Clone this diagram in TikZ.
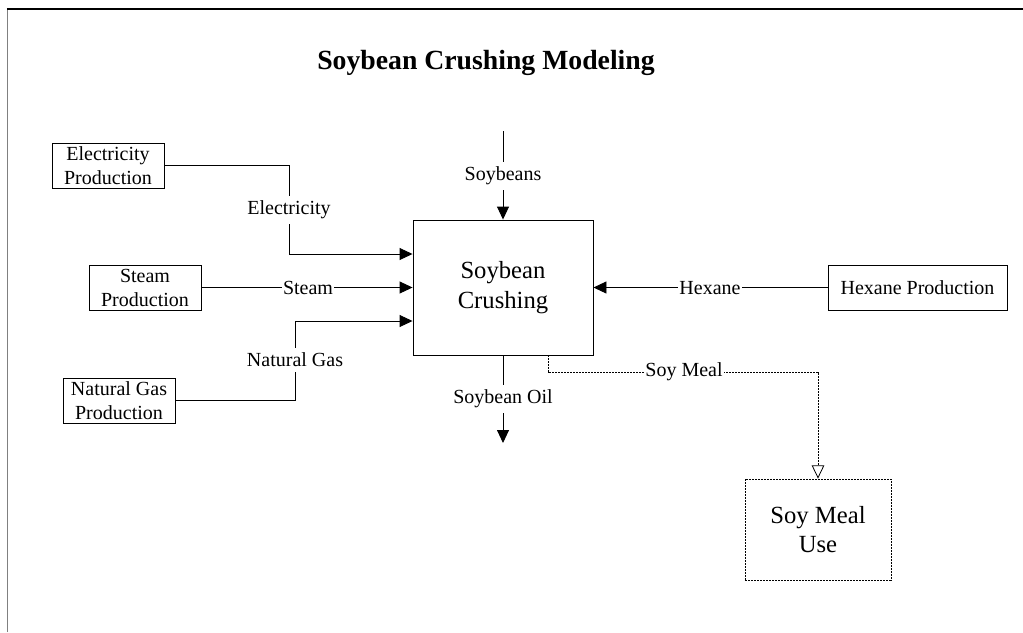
\documentclass[tikz,border=0pt]{standalone}
\usepackage{fontspec}
\setmainfont{Liberation Serif}
\usetikzlibrary{arrows.meta}
\begin{document}
\begin{tikzpicture}[x=0.75pt,y=-0.75pt,
  line width=0.7pt,
  smallfont/.style={font=\fontsize{15}{18}\selectfont},
  bigfont/.style={font=\fontsize{18.5}{22}\selectfont},
  prodbox/.style={draw, rectangle, inner sep=0pt, align=center, smallfont},
  mainbox/.style={draw, rectangle, inner sep=0pt, align=center, bigfont},
  lbl/.style={fill=white, inner xsep=1pt, inner ysep=4pt, smallfont},
  arr/.style={-{Triangle[length=9.75pt,width=9pt]}},
  openarr/.style={-{Triangle[open,length=10pt,width=9.5pt]}},
  dashline/.style={dash pattern=on 1.5pt off 0.75pt, line width=0.6pt}
]
\useasboundingbox (0,0) rectangle (1023,632);
% frame
\draw[line width=1.3pt, gray] (7.5,632) -- (7.5,9);
\draw[line width=1.3pt] (6.8,9) -- (1023,9);
% title
\node[font=\fontsize{20.8}{25}\selectfont\bfseries] (title) at (486,63) {Soybean Crushing Modeling};
% boxes
\node[prodbox, minimum width=112*0.75pt, minimum height=45*0.75pt] (elec) at (108,165.5) {Electricity\\Production};
\node[prodbox, minimum width=112*0.75pt, minimum height=45*0.75pt] (steam) at (145,287.5) {Steam\\Production};
\node[prodbox, minimum width=112*0.75pt, minimum height=45*0.75pt] (ng) at (119,400.5) {Natural Gas\\Production};
\node[mainbox, minimum width=180*0.75pt, minimum height=135*0.75pt] (main) at (503,287.5) {Soybean\\Crushing};
\node[prodbox, minimum width=179*0.75pt, minimum height=45*0.75pt] (hex) at (917.5,287.5) {Hexane Production};
\node[mainbox, dashline, minimum width=146*0.75pt, minimum height=101*0.75pt] (use) at (818,529.5) {Soy Meal\\Use};
% connectors
\draw[arr] (elec.east) -| (289,254) -- (main.west |- 0,254);
\node[lbl] (lelec) at (289,210) {Electricity};
\draw[arr] (steam.east) -- (main.west);
\node[lbl] (lsteam) at (308,288) {Steam};
\draw[arr] (ng.east) -| (295,321) -- (main.west |- 0,321);
\node[lbl] (lng) at (295,360) {Natural Gas};
\coordinate (sbtop) at (503,131);
\draw[arr] (sbtop) -- (main.north);
\node[lbl] (lsb) at (503,176) {Soybeans};
\coordinate (oilend) at (503,443);
\draw[arr] (main.south) -- (oilend);
\node[lbl] (loil) at (503,399) {Soybean Oil};
\draw[arr] (hex.west) -- (main.east);
\node[lbl] (lhex) at (710,288) {Hexane};
\draw[dashline, openarr] (main.south -| 548,0) |- (818,372) -- (use.north);
\node[lbl] (lmeal) at (684,372) {Soy Meal};
\end{tikzpicture}
\end{document}
